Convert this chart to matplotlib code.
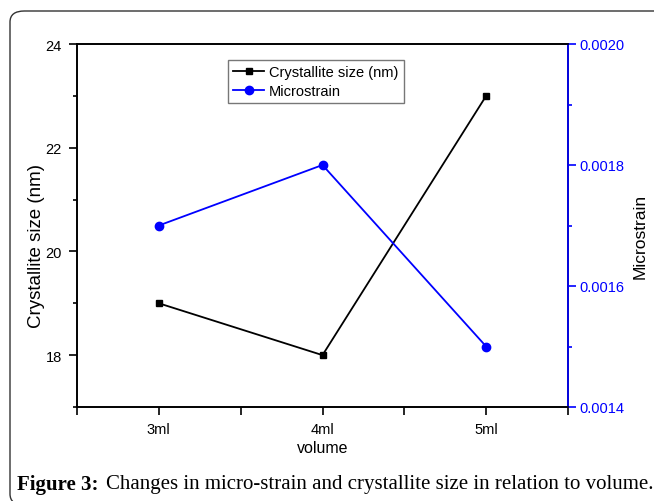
import matplotlib
matplotlib.use("Agg")
import matplotlib.pyplot as plt
from matplotlib.patches import FancyBboxPatch
from matplotlib.ticker import MultipleLocator

# data
volumes = [3, 4, 5]
volume_labels = ['3ml', '4ml', '5ml']
crystallite_size = [19, 18, 23]
microstrain = [0.0017, 0.0018, 0.0015]

plt.rcParams['font.family'] = ['Liberation Sans', 'DejaVu Sans']

fig = plt.figure(figsize=(6.54, 5.02), dpi=100)
ax = fig.add_axes([77 / 654, 94 / 502, 491 / 654, 363 / 502])
ax2 = ax.twinx()

l1, = ax.plot(volumes, crystallite_size, color='black', marker='s', markersize=5,
              linewidth=1.3, label='Crystallite size (nm)')
l2, = ax2.plot(volumes, microstrain, color='blue', marker='o', markersize=6,
               linewidth=1.3, label='Microstrain')

ax.set_xlim(2.5, 5.5)
ax.set_ylim(17, 24)
ax2.set_ylim(0.0014, 0.0020)

ax.set_xticks(volumes)
ax.set_xticklabels(volume_labels)
ax.xaxis.set_minor_locator(MultipleLocator(0.5))
ax.yaxis.set_major_locator(MultipleLocator(2))
ax.yaxis.set_minor_locator(MultipleLocator(1))
ax2.yaxis.set_major_locator(MultipleLocator(0.0002))
ax2.yaxis.set_minor_locator(MultipleLocator(0.0001))
ax2.set_yticklabels(['%.4f' % v for v in ax2.get_yticks()])

ax.tick_params(axis='both', which='major', direction='out', length=6, width=1.2,
               labelsize=10.5, pad=5)
ax.tick_params(axis='y', which='minor', direction='out', length=3, width=1.2)
ax.tick_params(axis='x', which='minor', direction='out', length=6, width=1.2)
ax2.tick_params(axis='y', which='major', direction='out', length=6, width=1.2,
                colors='blue', labelsize=10.5, pad=2)
ax2.tick_params(axis='y', which='minor', direction='out', length=3, width=1.2,
                colors='blue')

for s in ax.spines.values():
    s.set_linewidth(1.2)
for s in ax2.spines.values():
    s.set_linewidth(1.2)
ax2.spines['right'].set_color('blue')

ax.set_xlabel('volume', fontsize=11.5, labelpad=3)
ax.set_ylabel('Crystallite size (nm)', fontsize=13.5)
ax.yaxis.set_label_coords(-0.066, 0.446)
ax2.set_ylabel('Microstrain', fontsize=12.5)
ax2.yaxis.set_label_coords(1.131, 0.474)

leg = ax.legend(handles=[l1, l2], loc='upper left', bbox_to_anchor=(0.308, 0.955),
                fontsize=10.5, frameon=True, fancybox=False, borderpad=0.35,
                handlelength=2.1, handletextpad=0.35, labelspacing=0.3,
                borderaxespad=0)
leg.get_frame().set_edgecolor('#555555')
leg.get_frame().set_linewidth(1.0)

# caption
fig.text(17 / 654, 1 - 485 / 502, 'Figure 3:', fontsize=15, fontweight='bold',
         family=['Liberation Serif', 'DejaVu Serif'], va='center', ha='left')
fig.text(106 / 654, 1 - 485 / 502,
         'Changes in micro-strain and crystallite size in relation to volume.',
         fontsize=15, family=['Liberation Serif', 'DejaVu Serif'],
         va='center', ha='left')

# rounded frame
frame = FancyBboxPatch((10 / 654, -4 / 502), 660 / 654, 494 / 502,
                       boxstyle='round,pad=0,rounding_size=0.022',
                       transform=fig.transFigure, fill=False,
                       edgecolor='#333333', linewidth=1.0, clip_on=False)
fig.patches.append(frame)

fig.savefig('out.png', dpi=100)
